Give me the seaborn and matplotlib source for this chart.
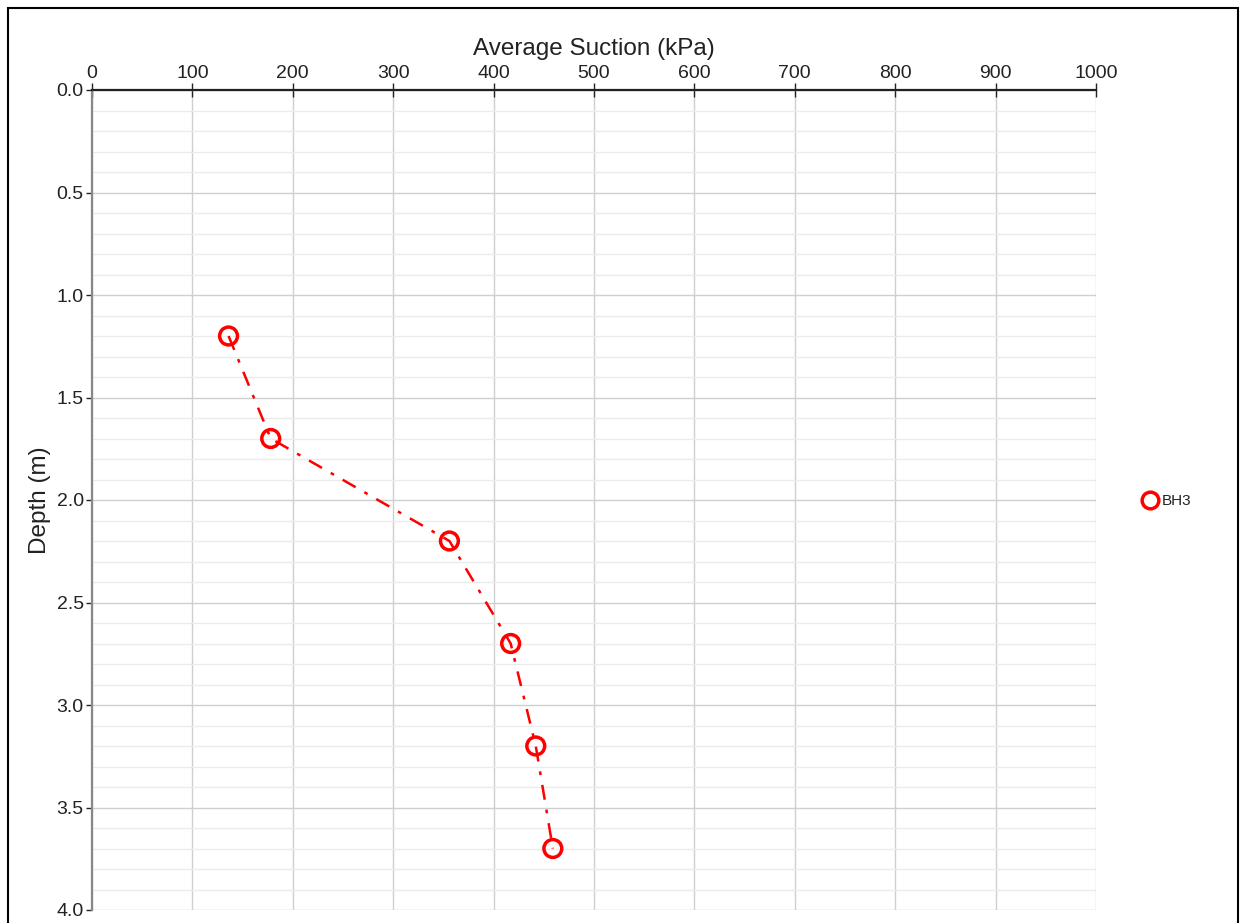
import matplotlib
matplotlib.use("Agg")
import matplotlib.pyplot as plt
import seaborn as sns
import pandas as pd
from matplotlib.lines import Line2D
from matplotlib.patches import Rectangle
from matplotlib.ticker import MultipleLocator, FormatStrFormatter

# Data
suction = [136, 178, 356, 417, 442, 459]
depth = [1.2, 1.7, 2.2, 2.7, 3.2, 3.7]
series = ["BH3"] * len(suction)
x_ticks = [0, 100, 200, 300, 400, 500, 600, 700, 800, 900, 1000]
y_ticks = [0.0, 0.5, 1.0, 1.5, 2.0, 2.5, 3.0, 3.5, 4.0]

sns.set_style("white")
plt.rcParams['font.family'] = ['Liberation Sans', 'DejaVu Sans']

df = pd.DataFrame({"suction": suction, "depth": depth, "series": series})

fig = plt.figure(figsize=(12.47, 9.23), dpi=100)
ax = fig.add_axes([92/1247, 1 - 910/923, (1096-92)/1247, (910-90)/923])

sns.lineplot(data=df, x="suction", y="depth", sort=False, estimator=None,
             color="#ff0000", linewidth=1.8, ax=ax, legend=False)
ax.lines[0].set_dashes((6, 4, 1.5, 4))
sns.scatterplot(data=df, x="suction", y="depth", ax=ax, legend=False,
                marker="o", s=165, facecolor="none", edgecolor="#ff0000",
                linewidth=2.5, zorder=5)

ax.set_xlim(0, 1000)
ax.set_ylim(4.0, 0.0)
ax.set_xticks(x_ticks)
ax.set_yticks(y_ticks)
ax.yaxis.set_minor_locator(MultipleLocator(0.1))
ax.yaxis.set_major_formatter(FormatStrFormatter('%.1f'))
ax.xaxis.tick_top()
ax.xaxis.set_label_position('top')

ax.grid(True, which='major', axis='both', color='#cfcfcf', linewidth=1.0)
ax.grid(True, which='minor', axis='y', color='#ebebeb', linewidth=1.0)
ax.set_axisbelow(True)

for s in ['right', 'bottom']:
    ax.spines[s].set_visible(False)
ax.spines['top'].set_color('#222222')
ax.spines['top'].set_linewidth(1.6)
ax.spines['left'].set_color('#888888')
ax.spines['left'].set_linewidth(1.6)

ax.tick_params(axis='x', which='major', top=True, bottom=False, direction='inout',
               length=10, width=1, color='#222222', labelsize=14, pad=1, labelcolor='#222222')
ax.tick_params(axis='y', which='major', left=True, direction='out',
               length=4, width=1, color='#222222', labelsize=14, pad=2, labelcolor='#222222')
ax.tick_params(axis='y', which='minor', left=False)

ax.set_xlabel("Average Suction (kPa)", fontsize=17.5, color='#222222', labelpad=7)
ax.set_ylabel("Depth (m)", fontsize=17.5, color='#222222', labelpad=4)

handle = Line2D([], [], linestyle='none', marker='o', markersize=12,
                markerfacecolor='none', markeredgecolor='#ff0000', markeredgewidth=2.5)
fig.legend([handle], ["BH3"], loc='center left', bbox_to_anchor=(1136/1247, 1 - 501/923),
           frameon=False, fontsize=11, handlelength=0.8, handletextpad=0.4,
           borderpad=0, labelcolor='#222222')

fig.patches.append(Rectangle((8/1247, -0.05), (1238-8)/1247, (923-8)/923 + 0.05,
                             transform=fig.transFigure, fill=False, edgecolor='black',
                             linewidth=1.5, zorder=10))

fig.savefig("out.png", dpi=100)
